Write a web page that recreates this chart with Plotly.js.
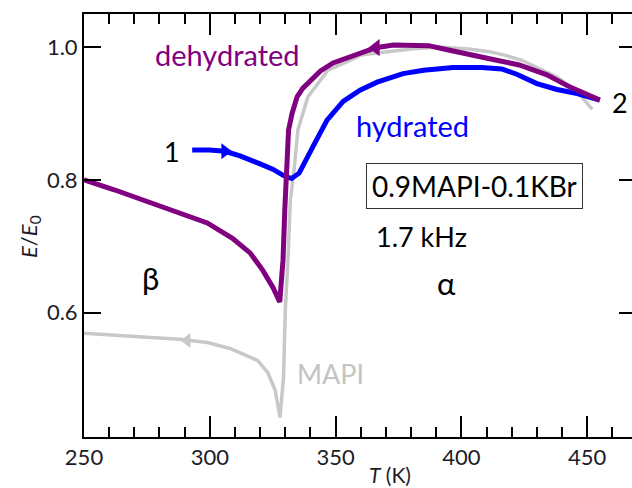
<!DOCTYPE html>
<html>
<head>
<meta charset="utf-8">
<script src="https://cdn.plot.ly/plotly-3.0.1.min.js"></script>
<style>
html,body{margin:0;padding:0;overflow:hidden;background:#fff;}
#chart{width:642px;height:488px;}
</style>
</head>
<body>
<div id="chart"></div>
<script>
// dehydrated (purple), cooling from point 2 (high T) to low T
var purpleT = [455, 449, 443, 434, 423, 414, 406, 399, 393, 387, 380, 373, 366, 360, 354, 349, 344, 340, 337, 334.7, 332.7, 331.3, 330.5, 329.8, 329.1, 327.8, 325.1, 321, 316, 309, 299, 288, 275, 262, 250];
var purpleV = [0.920, 0.930, 0.940, 0.958, 0.973, 0.980, 0.986, 0.991, 0.997, 1.002, 1.003, 1.003, 0.999, 0.991, 0.983, 0.976, 0.964, 0.950, 0.938, 0.925, 0.900, 0.875, 0.820, 0.754, 0.679, 0.616, 0.638, 0.664, 0.690, 0.712, 0.735, 0.750, 0.769, 0.785, 0.800];
var purpleArrowIdx = 12;

// hydrated (blue), heating from point 1 to point 2
var blueT = [293, 300, 306, 312, 320, 325, 329.5, 332.5, 335.5, 338, 341, 346.6, 353, 359.7, 366.5, 376.8, 385, 396.7, 408, 416, 422, 430, 438, 446, 455];
var blueV = [0.845, 0.845, 0.843, 0.836, 0.824, 0.816, 0.806, 0.802, 0.810, 0.830, 0.850, 0.890, 0.918, 0.935, 0.947, 0.960, 0.965, 0.969, 0.969, 0.967, 0.959, 0.945, 0.936, 0.930, 0.920];
var blueArrowIdx = 2;

// MAPI reference (grey), cooling
var greyT = [452, 446, 438, 430, 424, 418, 411, 403, 391, 380, 370, 360, 357, 347, 339, 335, 333.5, 332, 331, 330, 329.3, 327.9, 326, 323, 319, 308, 299, 291, 288, 275, 259, 250];
var greyV = [0.906, 0.933, 0.955, 0.970, 0.980, 0.987, 0.993, 0.997, 1.000, 0.997, 0.993, 0.988, 0.982, 0.965, 0.925, 0.875, 0.815, 0.769, 0.674, 0.604, 0.503, 0.442, 0.483, 0.510, 0.528, 0.546, 0.555, 0.558, 0.560, 0.563, 0.567, 0.569];
var greyArrowIdx = 27;

var xTickStart = 250, xTickStep = 50, xMinorStep = 10;
var yTickStart = 0.6, yTickStep = 0.2;

var PURPLE = '#800080', BLUE = '#0000ff', GREY = '#c8c8c8', INK = '#1c1c28';
var FONT = 'Lato, "Open Sans", sans-serif';

var traces = [
  {x: greyT, y: greyV, mode: 'lines', line: {color: GREY, width: 3.5}, hoverinfo: 'skip'},
  {x: [greyT[greyArrowIdx]], y: [greyV[greyArrowIdx]], mode: 'markers',
   marker: {symbol: 'triangle-left', size: 13, color: GREY}, hoverinfo: 'skip'},
  {x: blueT, y: blueV, mode: 'lines', line: {color: BLUE, width: 5}, hoverinfo: 'skip'},
  {x: [blueT[blueArrowIdx]], y: [blueV[blueArrowIdx]], mode: 'markers',
   marker: {symbol: 'triangle-right', size: 14, color: BLUE}, hoverinfo: 'skip'},
  {x: purpleT, y: purpleV, mode: 'lines', line: {color: PURPLE, width: 5}, hoverinfo: 'skip'},
  {x: [purpleT[purpleArrowIdx]], y: [purpleV[purpleArrowIdx]], mode: 'markers',
   marker: {symbol: 'triangle-left', size: 15, color: PURPLE}, hoverinfo: 'skip'}
];

function ann(text, x, y, size, color, extra) {
  var a = {text: text, x: x, y: y, xref: 'x', yref: 'y', showarrow: false,
           font: {family: FONT, size: size, color: color}, xanchor: 'center', yanchor: 'middle'};
  for (var k in extra) a[k] = extra[k];
  return a;
}

var layout = {
  width: 642, height: 488,
  margin: {l: 84, r: 6, t: 14, b: 51},
  paper_bgcolor: '#fff', plot_bgcolor: '#fff',
  showlegend: false,
  font: {family: FONT, size: 22, color: INK},
  xaxis: {
    range: [250, 469.4], tickmode: 'linear', tick0: xTickStart, dtick: xTickStep,
    ticks: 'inside', ticklen: 21, tickwidth: 2, tickcolor: '#000',
    showline: true, linecolor: '#000', linewidth: 2, mirror: 'allticks',
    showgrid: false, zeroline: false, layer: 'above traces',
    tickfont: {family: FONT, size: 22, color: INK},
    minor: {dtick: xMinorStep, ticks: 'inside', ticklen: 10, tickwidth: 2, tickcolor: '#000', showgrid: false}
  },
  yaxis: {
    range: [0.4127, 1.0497], tickmode: 'linear', tick0: yTickStart, dtick: yTickStep, tickformat: '.1f',
    ticks: 'inside', ticklen: 17, tickwidth: 2, tickcolor: '#000',
    showline: true, linecolor: '#000', linewidth: 2, mirror: 'allticks',
    showgrid: false, zeroline: false, layer: 'above traces',
    tickfont: {family: FONT, size: 22, color: INK}
  },
  annotations: [
    ann('dehydrated', 307.2, 0.988, 29, PURPLE),
    ann('hydrated', 380.4, 0.882, 29, BLUE),
    ann('1', 285, 0.842, 27, '#000'),
    ann('2', 463, 0.916, 27, '#000'),
    ann('0.9MAPI-0.1KBr', 405.4, 0.790, 28, '#000', {bordercolor: '#333', borderwidth: 1, borderpad: 5}),
    ann('1.7 kHz', 384, 0.714, 27, '#000'),
    ann('α', 393.9, 0.644, 31, '#000'),
    ann('β', 276.6, 0.652, 31, '#000'),
    ann('MAPI', 347.8, 0.509, 27, '#c4c4c4'),
    {text: '<i>T</i> (K)', xref: 'x', yref: 'paper', x: 371.6, y: -0.0875, showarrow: false,
     font: {family: FONT, size: 21, color: INK}, xanchor: 'center', yanchor: 'middle'},
    {text: '<i>E</i>/<i>E</i><sub>0</sub>', xref: 'paper', yref: 'paper', x: -0.098, y: 0.475,
     textangle: -90, showarrow: false, font: {family: FONT, size: 22, color: INK},
     xanchor: 'center', yanchor: 'middle'}
  ]
};

Plotly.newPlot('chart', traces, layout, {staticPlot: true, displayModeBar: false});
</script>
</body>
</html>
